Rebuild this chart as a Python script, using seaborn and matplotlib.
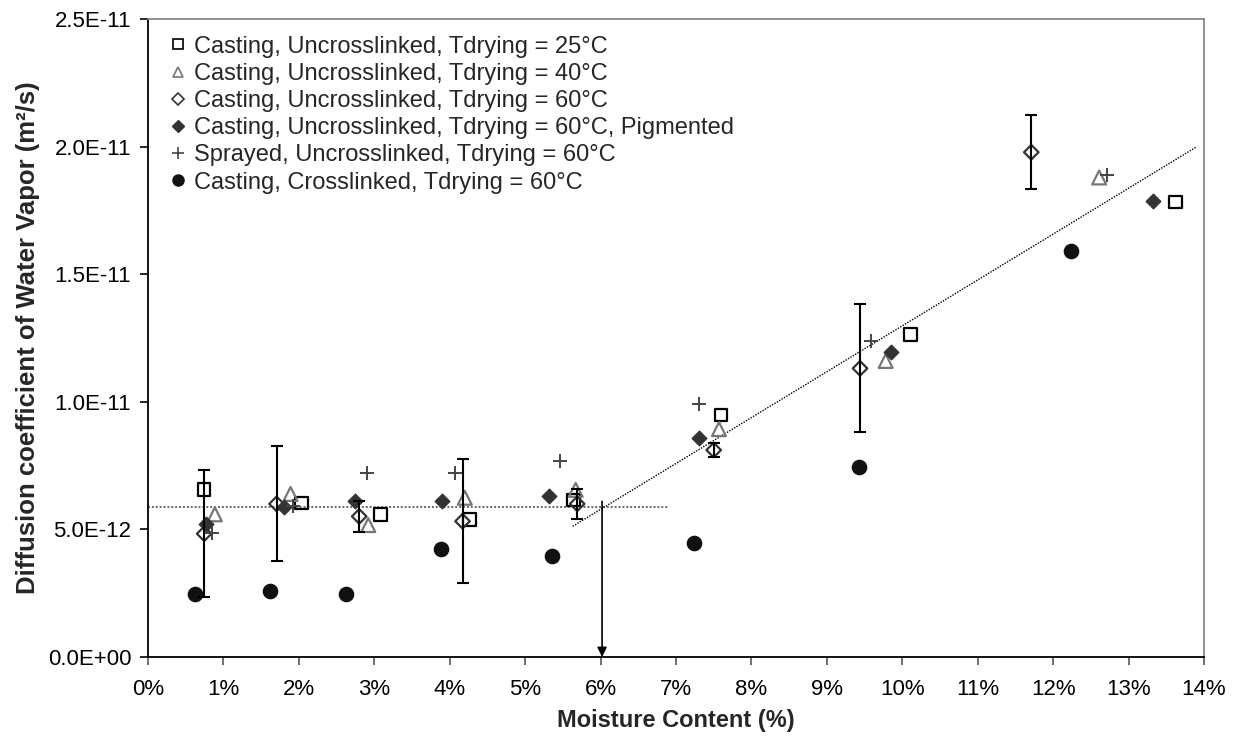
import numpy as np
import pandas as pd
import matplotlib
matplotlib.use("Agg")
import matplotlib.pyplot as plt
import seaborn as sns
from matplotlib.lines import Line2D
from matplotlib.ticker import FuncFormatter

# ---- data (x in % moisture, y in m2/s) ----
labels = [
    "Casting, Uncrosslinked, Tdrying = 25°C",
    "Casting, Uncrosslinked, Tdrying = 40°C",
    "Casting, Uncrosslinked, Tdrying = 60°C",
    "Casting, Uncrosslinked, Tdrying = 60°C, Pigmented",
    "Sprayed, Uncrosslinked, Tdrying = 60°C",
    "Casting, Crosslinked, Tdrying = 60°C",
]

x_cast25 = [0.745, 2.035, 3.08, 4.26, 5.64, 7.60, 10.11, 13.62]
y_cast25 = [6.56e-12, 6.04e-12, 5.59e-12, 5.39e-12, 6.16e-12, 9.48e-12, 12.64e-12, 17.82e-12]

x_cast40 = [0.887, 1.89, 2.92, 4.20, 5.67, 7.57, 9.78, 12.61]
y_cast40 = [5.59e-12, 6.39e-12, 5.17e-12, 6.24e-12, 6.55e-12, 8.93e-12, 11.60e-12, 18.79e-12]

x_cast60 = [0.745, 1.704, 2.80, 4.17, 5.69, 7.50, 9.44, 11.71]
y_cast60 = [4.83e-12, 6.00e-12, 5.51e-12, 5.32e-12, 6.00e-12, 8.11e-12, 11.31e-12, 19.78e-12]
err_cast60 = [2.48e-12, 2.25e-12, 0.60e-12, 2.43e-12, 0.59e-12, 0.26e-12, 2.51e-12, 1.45e-12]

x_pigm = [0.764, 1.80, 2.75, 3.90, 5.32, 7.31, 9.85, 13.33]
y_pigm = [5.22e-12, 5.86e-12, 6.13e-12, 6.11e-12, 6.30e-12, 8.58e-12, 11.95e-12, 17.85e-12]

x_spray = [0.843, 1.925, 2.91, 4.07, 5.46, 7.31, 9.59, 12.72]
y_spray = [4.87e-12, 5.90e-12, 7.20e-12, 7.20e-12, 7.67e-12, 9.93e-12, 12.38e-12, 18.87e-12]

x_cross = [0.627, 1.616, 2.63, 3.89, 5.36, 7.24, 9.43, 12.24]
y_cross = [2.46e-12, 2.57e-12, 2.47e-12, 4.22e-12, 3.95e-12, 4.46e-12, 7.46e-12, 15.90e-12]

# trend lines and critical moisture content
plateau_x = [0.0, 6.9]
plateau_y = [5.87e-12, 5.87e-12]
slope_x = [5.63, 13.89]
slope_y = [5.12e-12, 19.97e-12]
crit_x = 6.02
crit_y = 6.1e-12

x_ticks = [0, 1, 2, 3, 4, 5, 6, 7, 8, 9, 10, 11, 12, 13, 14]
y_ticks = [0.0, 5e-12, 1e-11, 1.5e-11, 2e-11, 2.5e-11]

xs = [x_cast25, x_cast40, x_cast60, x_pigm, x_spray, x_cross]
ys = [y_cast25, y_cast40, y_cast60, y_pigm, y_spray, y_cross]
df = pd.concat(
    [pd.DataFrame({"moisture": x, "D": y, "series": lab}) for x, y, lab in zip(xs, ys, labels)],
    ignore_index=True,
)

# marker styles per series
styles = {
    labels[0]: dict(marker="s", s=80, facecolor="none", edgecolor="black", linewidth=1.6),
    labels[1]: dict(marker="^", s=100, facecolor="none", edgecolor="#777777", linewidth=1.6),
    labels[2]: dict(marker="D", s=55, facecolor="none", edgecolor="#333333", linewidth=1.6),
    labels[3]: dict(marker="D", s=55, facecolor="#333333", edgecolor="#333333", linewidth=1.0),
    labels[4]: dict(marker="+", s=110, color="#444444", linewidth=1.4),
    labels[5]: dict(marker="o", s=105, facecolor="#111111", edgecolor="#111111", linewidth=1.0),
}
legend_kw = [
    dict(marker="s", mfc="none", mec="black", ms=7, mew=1.2),
    dict(marker="^", mfc="none", mec="#777777", ms=7.5, mew=1.2),
    dict(marker="D", mfc="none", mec="#333333", ms=6, mew=1.2),
    dict(marker="D", mfc="#333333", mec="#333333", ms=6, mew=1.0),
    dict(marker="+", mfc="none", mec="#444444", ms=9, mew=1.2),
    dict(marker="o", mfc="#111111", mec="#111111", ms=8, mew=1.0),
]

sns.set_style("white")
plt.rcParams["font.family"] = ["Liberation Sans", "DejaVu Sans"]

fig = plt.figure(figsize=(12.38, 7.46), dpi=100)
ax = fig.add_axes([148 / 1238, 89 / 746, 1056 / 1238, 638 / 746])

# trend lines
ax.plot(plateau_x, plateau_y, linestyle=(0, (1, 1)), color="#666666", linewidth=1.4, zorder=1)
ax.plot(slope_x, slope_y, linestyle=(0, (1, 1)), color="black", linewidth=1.0, zorder=1)
ax.annotate("", xy=(crit_x, 0), xytext=(crit_x, crit_y),
            arrowprops=dict(arrowstyle="-|>", color="black", lw=1.2,
                            mutation_scale=14, shrinkA=0, shrinkB=0))

for lab in labels:
    sub = df[df["series"] == lab]
    sns.scatterplot(data=sub, x="moisture", y="D", ax=ax, legend=False, zorder=3, **styles[lab])

ax.errorbar(x_cast60, y_cast60, yerr=err_cast60, fmt="none", ecolor="black",
            elinewidth=1.5, capsize=4, capthick=1.5, zorder=4)

ax.set_xlim(0, 14)
ax.set_ylim(0, 2.5e-11)
ax.set_xticks(x_ticks)
ax.set_yticks(y_ticks)
ax.xaxis.set_major_formatter(FuncFormatter(lambda v, p: f"{v:.0f}%"))
ax.yaxis.set_major_formatter(FuncFormatter(lambda v, p: f"{v:.1E}"))
ax.yaxis.get_offset_text().set_visible(False)
ax.xaxis.get_offset_text().set_visible(False)
ax.tick_params(axis="both", direction="out", length=6, width=1.2, labelsize=16,
               color="black", labelcolor="black", pad=6, left=True, bottom=True)
ax.tick_params(axis="x", color="#555555", pad=10)

for side in ["left", "bottom"]:
    ax.spines[side].set_color("black")
    ax.spines[side].set_linewidth(1.3)
for side in ["top", "right"]:
    ax.spines[side].set_color("#888888")
    ax.spines[side].set_linewidth(1.3)

ax.set_xlabel("Moisture Content (%)", fontsize=17, fontweight="bold", va="center")
ax.xaxis.set_label_coords(0.5, -0.1)
ax.set_ylabel("Diffusion coefficient of Water Vapor (m²/s)", fontsize=18.5,
              fontweight="bold", va="center")
ax.yaxis.set_label_coords(-0.114, 0.5)

handles = [Line2D([], [], linestyle="none", **kw) for kw in legend_kw]
ax.legend(handles, labels, loc="upper left", bbox_to_anchor=(0.0116, 0.9887),
          frameon=False, fontsize=17, handlelength=0.7, handletextpad=0.35,
          labelspacing=0.22, borderaxespad=0, borderpad=0.4)

fig.savefig("out.png", dpi=100)
